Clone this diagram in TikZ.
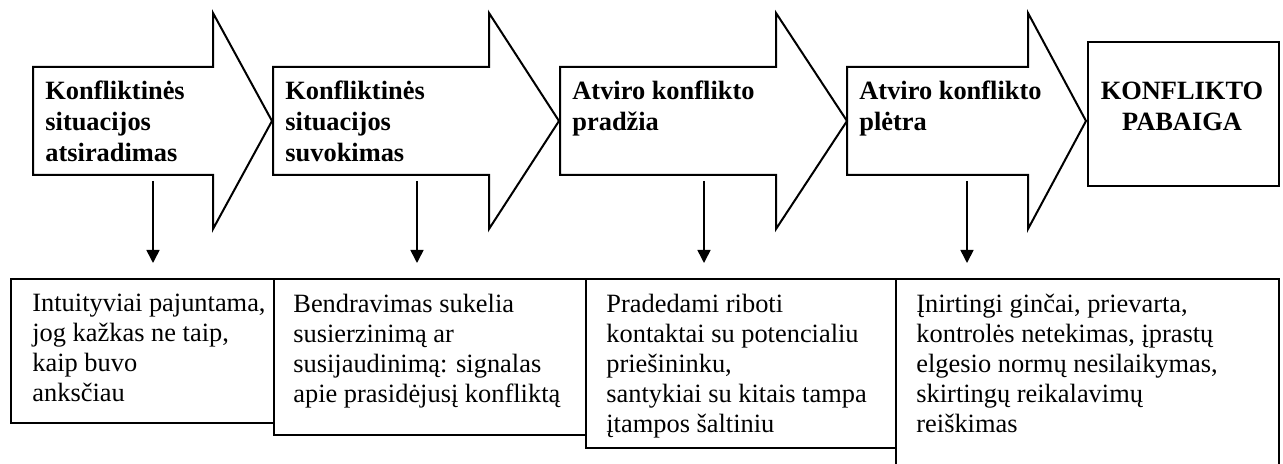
\documentclass[tikz,border=0pt]{standalone}
\usepackage{fontspec}
\setmainfont{Liberation Serif}
\usetikzlibrary{arrows.meta}

\begin{document}
\begin{tikzpicture}[x=0.5pt,y=-0.5pt,
  stage/.style={anchor=north west,inner sep=0pt,align=left,font=\bfseries\fontsize{13.2}{15.5}\selectfont},
  note/.style={anchor=north west,inner sep=0pt,align=left,font=\fontsize{13.2}{15}\selectfont},
  frame/.style={draw,line width=0.9pt,anchor=north west,inner sep=0pt},
  down/.style={-{Triangle[width=6.5pt,length=6.5pt]},line width=0.8pt,shorten >=7.5pt}]
  \clip (0,0) rectangle (1283,464);
  % stage arrows
  \foreach \l/\h/\t in {33/213/272,273/489/559,560/776/847,847/1028/1086}
    \draw[line width=1pt] (\l,67) -- (\h,67) -- (\h,13) -- (\t,121) -- (\h,229) -- (\h,175) -- (\l,175) -- cycle;
  \path (45,81) node[stage] (a1) {Konfliktinės\\situacijos\\atsiradimas}
  (285,81) node[stage] (a2) {Konfliktinės\\situacijos\\suvokimas}
  (572,81) node[stage] (a3) {Atviro konflikto\\pradžia}
  (859,81) node[stage] (a4) {Atviro konflikto\\plėtra};
  \node[frame,line width=1pt,minimum width=95.5pt,minimum height=72pt] (pab) at (1087,41) {};
  \node[stage,anchor=north,align=center] (pabt) at (1182,82) {KONFLIKTO\\PABAIGA};
  % description boxes
  \node[frame,minimum width=131.5pt,minimum height=72pt] (b1) at (10,278) {};
  \node[frame,minimum width=156pt,minimum height=78pt] (b2) at (273,278) {};
  \node[frame,minimum width=155pt,minimum height=84.5pt] (b3) at (585,278) {};
  \node[frame,minimum width=191.5pt,minimum height=96pt] (b4) at (895,278) {};
  \path (32,294) node[note] (t1) {Intuityviai pajuntama,\\jog kažkas ne taip,\\kaip buvo\\anksčiau}
  (293,294) node[note] (t2) {Bendravimas sukelia\\susierzinimą ar\\susijaudinimą: signalas\\apie prasidėjusį konfliktą}
  (606,294) node[note] (t3) {Pradedami riboti\\kontaktai su potencialiu\\priešininku,\\santykiai su kitais tampa\\įtampos šaltiniu}
  (916,294) node[note] (t4) {Įnirtingi ginčai, prievarta,\\kontrolės netekimas, įprastų\\elgesio normų nesilaikymas,\\skirtingų reikalavimų\\reiškimas};
  \coordinate (s1) at (153,181);
  \coordinate (s2) at (417,181);
  \coordinate (s3) at (704,181);
  \coordinate (s4) at (967,181);
  \draw[down] (s1) -- (s1 |- b1.north);
  \draw[down] (s2) -- (s2 |- b2.north);
  \draw[down] (s3) -- (s3 |- b3.north);
  \draw[down] (s4) -- (s4 |- b4.north);
\end{tikzpicture}
\end{document}
